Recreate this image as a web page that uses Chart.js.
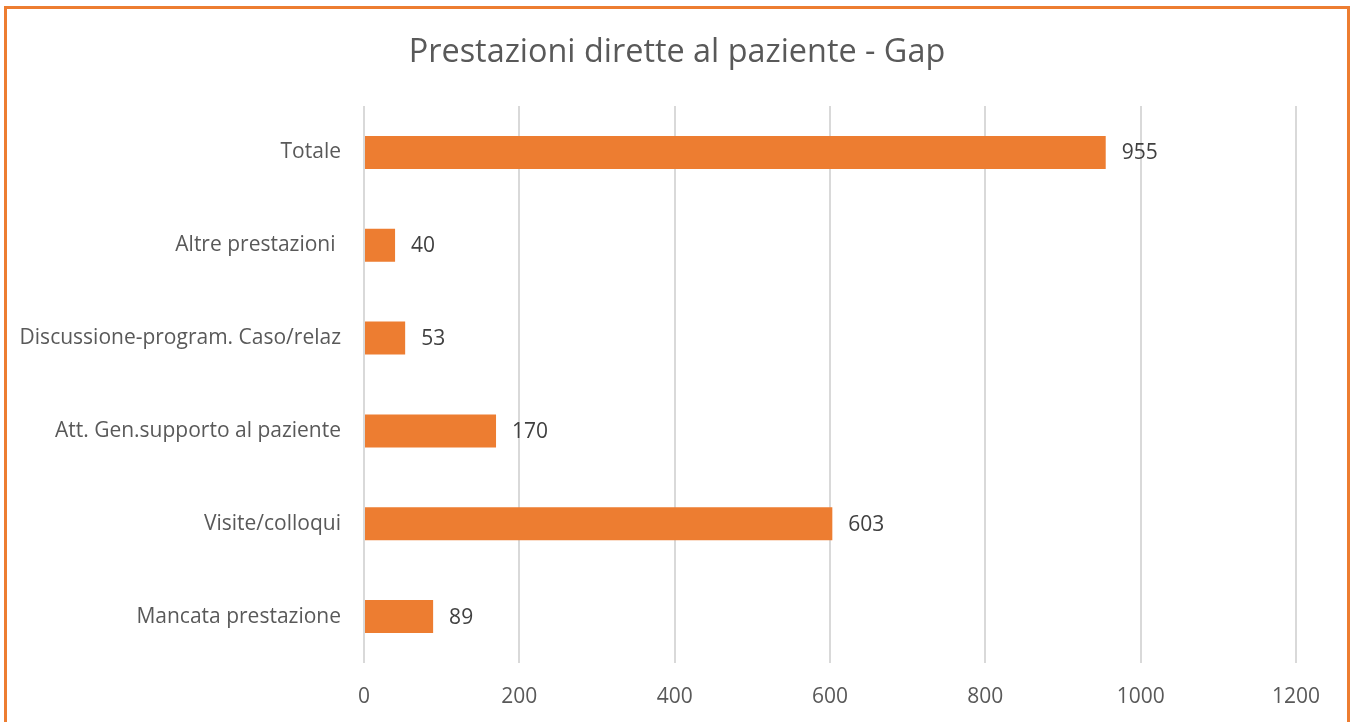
<!DOCTYPE html>
<html>
<head>
<meta charset="utf-8">
<script src="https://cdn.jsdelivr.net/npm/chart.js@4"></script>
<style>
  body { margin: 0; background: #fff; overflow: hidden; }
  #wrap { position: absolute; left: 0; top: 0; width: 1354px; height: 722px; }
  #frame {
    position: absolute; left: 4px; top: 6px; width: 1340px; height: 740px;
    border: 3px solid #ED7D31; pointer-events: none;
  }
</style>
</head>
<body>
<div id="wrap">
  <canvas id="chart" width="1354" height="722"></canvas>
  <div id="frame"></div>
</div>
<script>
// Chart data
const chartTitle = 'Prestazioni dirette al paziente - Gap';
const categories = [
    'Totale',
    'Altre prestazioni ',
    'Discussione-program. Caso/relaz',
    'Att. Gen.supporto al paziente',
    'Visite/colloqui',
    'Mancata prestazione'
];
const gapValues = [955, 40, 53, 170, 603, 89];
const xTicks = [0, 200, 400, 600, 800, 1000, 1200];

const fontFamily = "'Open Sans', 'Noto Sans', sans-serif";

// Title centred on the whole canvas, plus the value next to each bar
const labelsPlugin = {
    id: 'labelsPlugin',
    afterDatasetsDraw(chart) {
        const ctx = chart.ctx;
        const meta = chart.getDatasetMeta(0);
        ctx.save();
        ctx.fillStyle = '#404040';
        ctx.font = '21px ' + fontFamily;
        ctx.textAlign = 'left';
        ctx.textBaseline = 'middle';
        meta.data.forEach((bar, i) => {
            ctx.fillText(String(gapValues[i]), bar.x + 16, bar.y + 1);
        });

        ctx.fillStyle = '#595959';
        ctx.font = '32.4px ' + fontFamily;
        ctx.textAlign = 'center';
        ctx.fillText(chartTitle, chart.width / 2, 53);
        ctx.restore();
    }
};

new Chart(document.getElementById('chart').getContext('2d'), {
    type: 'bar',
    data: {
        labels: categories,
        datasets: [{
            label: 'Gap',
            data: gapValues,
            backgroundColor: '#ED7D31',
            borderWidth: 0,
            categoryPercentage: 1,
            barPercentage: 0.355
        }]
    },
    options: {
        indexAxis: 'y',
        responsive: false,
        animation: false,
        layout: { padding: { left: 0, right: 58, top: 106, bottom: 0 } },
        plugins: {
            legend: { display: false },
            tooltip: { enabled: false },
            title: { display: false }
        },
        scales: {
            x: {
                min: 0,
                max: 1200,
                afterBuildTicks(scale) {
                    scale.ticks = xTicks.map(v => ({ value: v }));
                },
                afterFit(scale) { scale.height = 59; },
                grid: { color: '#d9d9d9', lineWidth: 2, drawTicks: false },
                border: { display: false },
                ticks: {
                    color: '#595959',
                    padding: 21,
                    font: { family: fontFamily, size: 21 },
                    callback: v => String(v)
                }
            },
            y: {
                afterFit(scale) { scale.width = 364; },
                grid: { display: false, drawTicks: false },
                border: { display: false },
                ticks: {
                    color: '#595959',
                    padding: 23,
                    font: { family: fontFamily, size: 21 }
                }
            }
        }
    },
    plugins: [labelsPlugin]
});
</script>
</body>
</html>
